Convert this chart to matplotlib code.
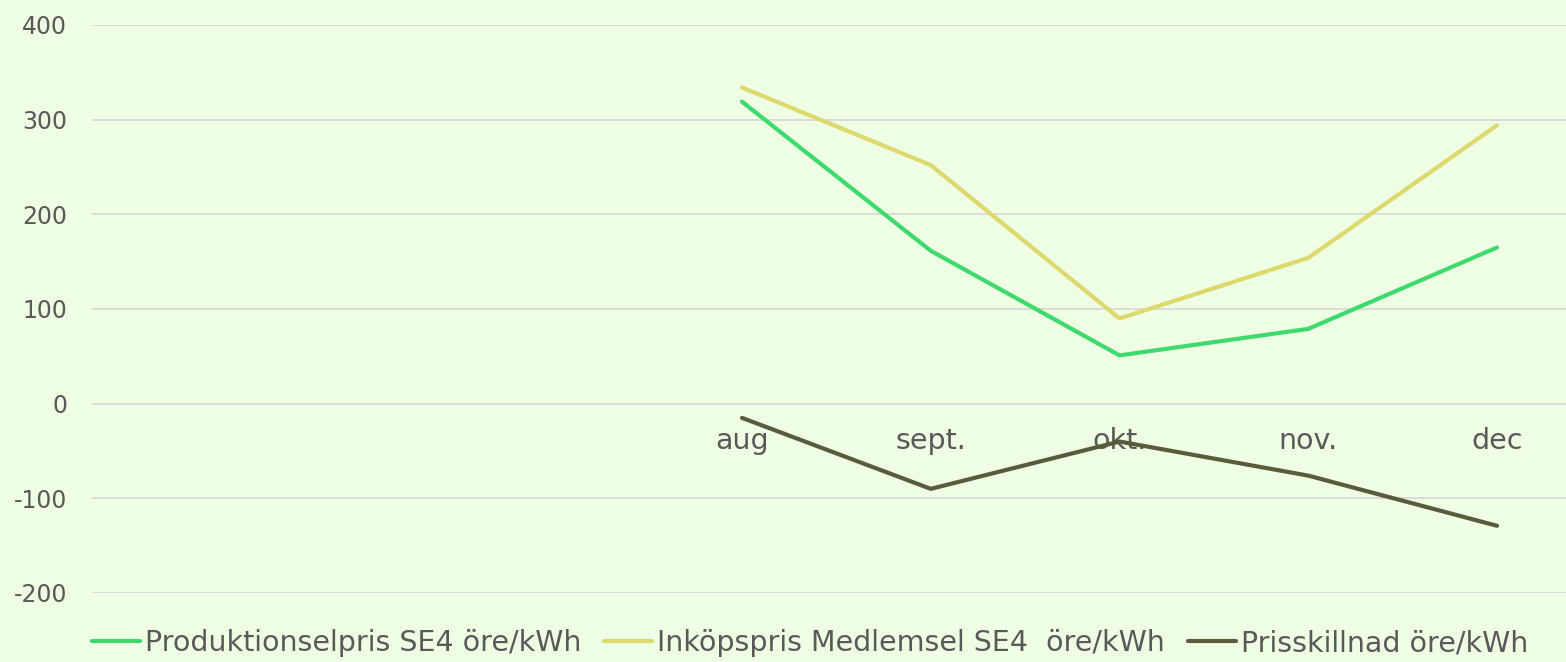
import matplotlib
matplotlib.use("Agg")
import matplotlib.pyplot as plt

categories = ["aug", "sept.", "okt.", "nov.", "dec"]
produktion = [319, 161.5, 51, 79, 165]
inkop = [334, 252, 90, 154, 294]
skillnad = [-15, -90, -40, -76, -129]
labels = ["Produktionselpris SE4 öre/kWh", "Inköpspris Medlemsel SE4  öre/kWh", "Prisskillnad öre/kWh"]
yticks = [-200, -100, 0, 100, 200, 300, 400]

bg = "#EEFFE3"
txt = "#595959"
plt.rcParams['font.family'] = ['DejaVu Sans']
plt.rcParams['axes.unicode_minus'] = False

fig = plt.figure(figsize=(15.66, 6.62), dpi=100, facecolor=bg)
ax = fig.add_axes([92/1566, 1-593/662, 1-92/1566, (593-25)/662], facecolor=bg)

x = list(range(len(categories)))
lw = 3.0
l1, = ax.plot(x, produktion, color="#3EDA6E", lw=lw, solid_capstyle='round', solid_joinstyle='round', zorder=3)
l2, = ax.plot(x, inkop, color="#DCDA6C", lw=lw, solid_capstyle='round', solid_joinstyle='round', zorder=3)
l3, = ax.plot(x, skillnad, color="#5A5A3C", lw=lw, solid_capstyle='round', solid_joinstyle='round', zorder=3)

ax.set_ylim(-200, 400)
ax.set_yticks(yticks)
ax.set_xlim(-3.4437, 4.3656)
ax.set_xticks(x)
ax.set_xticklabels(categories)
ax.grid(axis='y', color="#D9D9D9", lw=1.3, zorder=1)
ax.set_axisbelow(True)
for s in ax.spines.values():
    s.set_visible(False)
ax.spines['bottom'].set_position(('data', 0))
ax.tick_params(axis='x', length=0, pad=17, labelsize=20.5, labelcolor=txt)
ax.tick_params(axis='y', length=0, pad=18, labelsize=17, labelcolor=txt)

leg = fig.legend([l1, l2, l3], labels, loc='center', bbox_to_anchor=(0.5172, 1-643/662),
                 ncol=3, frameon=False, fontsize=20.5, handlelength=1.7,
                 handletextpad=0.17, columnspacing=0.8, borderpad=0, borderaxespad=0)
for t in leg.get_texts():
    t.set_color(txt)

fig.savefig("out.png", dpi=100, facecolor=bg)
